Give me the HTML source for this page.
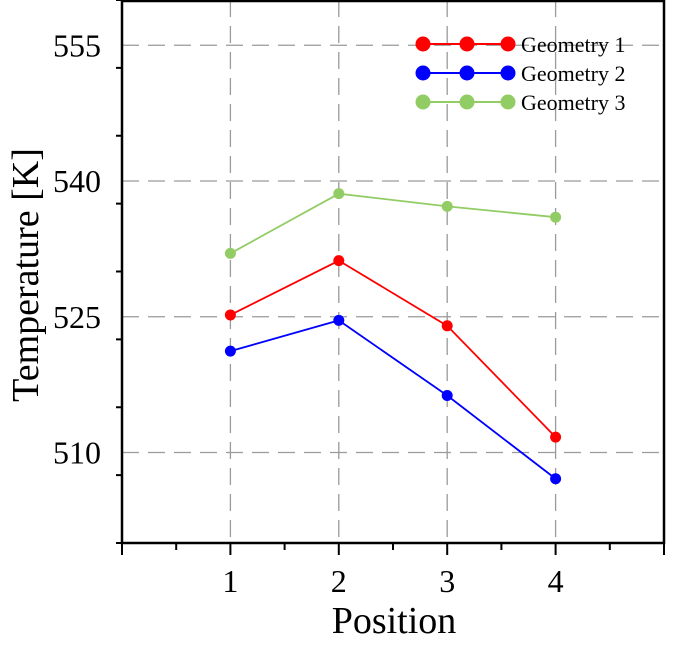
<!DOCTYPE html>
<html><head><meta charset="utf-8"><style>
body{margin:0;background:#fff;width:673px;height:641px;overflow:hidden}
svg{font-family:"Liberation Serif",serif}
</style></head><body>
<svg id="chart" width="673" height="641" xmlns="http://www.w3.org/2000/svg"></svg>
<script>
const categories=[1,2,3,4];
const geometry1=[525.2,531.2,524.0,511.7];
const geometry2=[521.2,524.6,516.3,507.1];
const geometry3=[532.0,538.6,537.2,536.0];
const yTicks=[510,525,540,555];
const xTicks=[1,2,3,4];
const seriesNames=["Geometry 1","Geometry 2","Geometry 3"];
const seriesColors=["#ff0000","#0000ff","#92cc64"];

const L=122,R=664,T=0,B=543,X0=0,X1=5,Y0=500,Y1=560;
const sx=v=>L+(v-X0)/(X1-X0)*(R-L);
const sy=v=>B-(v-Y0)/(Y1-Y0)*(B-T);
const svg=document.getElementById('chart');
const NS="http://www.w3.org/2000/svg";
function mk(tag,attrs,parent){const e=document.createElementNS(NS,tag);for(const k in attrs)e.setAttribute(k,attrs[k]);(parent||svg).appendChild(e);return e;}

yTicks.forEach(v=>{const g=mk('line',{x1:L,x2:R,y1:sy(v),y2:sy(v),stroke:'#9a9a9a','stroke-width':1.3,'stroke-dasharray':'17,9'});

});
xTicks.forEach(v=>{const g=mk('line',{x1:sx(v),x2:sx(v),y1:T,y2:B,stroke:'#9a9a9a','stroke-width':1.3,'stroke-dasharray':'17,9'});

});

const fr=mk('rect',{x:L,y:T+1,width:R-L,height:B-T-1,fill:'none',stroke:'#000','stroke-width':2.5});



for(let v=Y0;v<=Y1;v+=7.5){const major=yTicks.includes(v);
const t=mk('line',{x1:L,x2:L-(major?11:6),y1:sy(v),y2:sy(v),stroke:'#000','stroke-width':2});

}
yTicks.forEach(v=>{const tx=mk('text',{x:L-21,y:sy(v)+11,'text-anchor':'end','font-size':32});tx.textContent=v;

});
for(let v=X0;v<=X1;v+=0.5){const major=Number.isInteger(v);
const t=mk('line',{x1:sx(v),x2:sx(v),y1:B,y2:B+(major?12:7),stroke:'#000','stroke-width':2});

}
xTicks.forEach(v=>{const tx=mk('text',{x:sx(v),y:592,'text-anchor':'middle','font-size':32});tx.textContent=v;

});

const xt=mk('text',{x:394,y:633,'text-anchor':'middle','font-size':38});xt.textContent='Position';


const yt=mk('text',{x:0,y:0,'text-anchor':'middle','font-size':38,transform:`translate(38,275) rotate(-90)`});yt.textContent='Temperature [K]';



[geometry1,geometry2,geometry3].forEach((data,i)=>{
const g=mk('g',{});


const pl=mk('polyline',{points:data.map((d,j)=>sx(categories[j])+','+sy(d)).join(' '),fill:'none',stroke:seriesColors[i],'stroke-width':1.8},g);


data.forEach((d,j)=>{const c=mk('circle',{cx:sx(categories[j]),cy:sy(d),r:5.5,fill:seriesColors[i]},g);

});
const ly=44+i*29;
const lg=mk('g',{});


mk('line',{x1:423,x2:508,y1:ly,y2:ly,stroke:seriesColors[i],'stroke-width':2},lg);
[423,467,508].forEach(x=>mk('circle',{cx:x,cy:ly,r:7.5,fill:seriesColors[i]},lg));
const lt=mk('text',{x:521,y:ly+8,'font-size':22},lg);lt.textContent=seriesNames[i];
});
</script>
</body></html>
